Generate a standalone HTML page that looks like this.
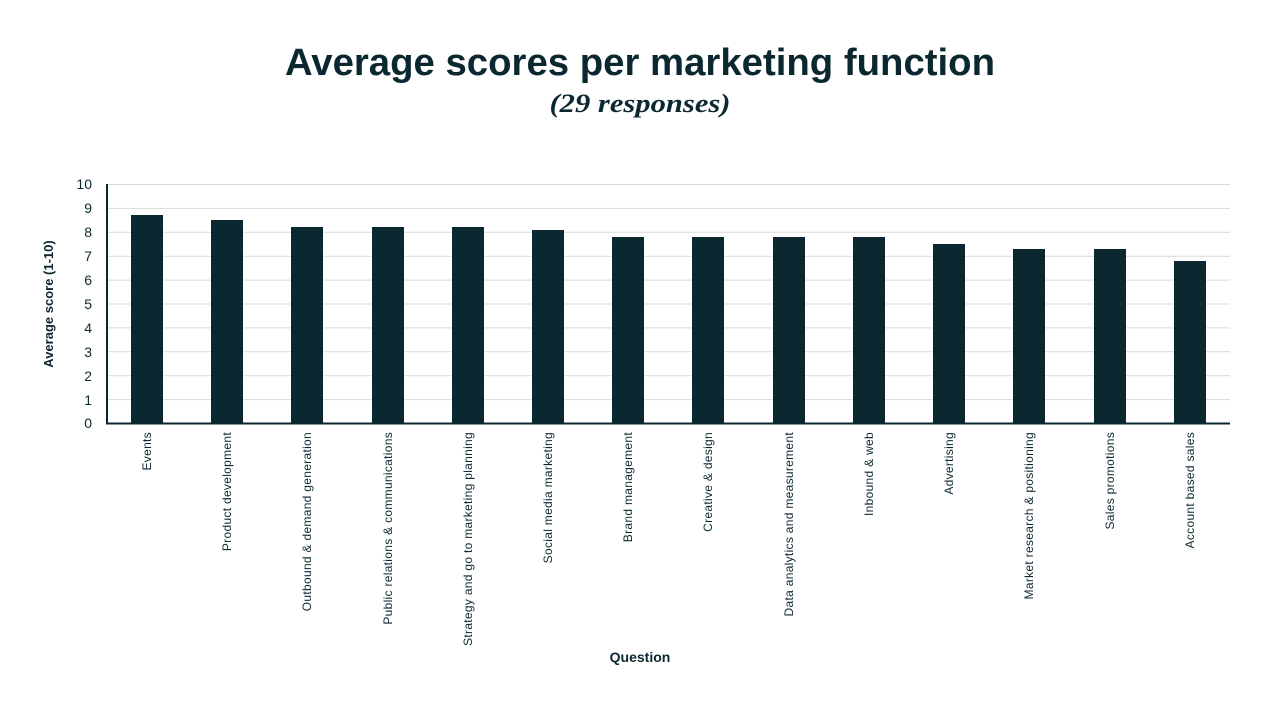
<!DOCTYPE html>
<html><head><meta charset="utf-8"><style>
html,body{margin:0;padding:0;background:#fff;}
svg{display:block;}
text{font-family:"Liberation Sans",sans-serif;fill:#0b2830;}
</style></head><body>
<svg width="1280" height="720" viewBox="0 0 1280 720" xmlns="http://www.w3.org/2000/svg">
<text x="640" y="75" text-anchor="middle" font-size="38" font-weight="bold" textLength="710" lengthAdjust="spacingAndGlyphs">Average scores per marketing function</text>
<text x="640" y="112" text-anchor="middle" font-size="26" font-weight="bold" font-style="italic" textLength="181" lengthAdjust="spacingAndGlyphs" style="font-family:'Liberation Serif',serif">(29 responses)</text>
<g stroke="#d9d9d9" stroke-width="1">
<line x1="107" x2="1230" y1="184.5" y2="184.5"/><line x1="107" x2="1230" y1="208.4" y2="208.4"/><line x1="107" x2="1230" y1="232.3" y2="232.3"/><line x1="107" x2="1230" y1="256.2" y2="256.2"/><line x1="107" x2="1230" y1="280.1" y2="280.1"/><line x1="107" x2="1230" y1="304" y2="304"/><line x1="107" x2="1230" y1="327.9" y2="327.9"/><line x1="107" x2="1230" y1="351.8" y2="351.8"/><line x1="107" x2="1230" y1="375.7" y2="375.7"/><line x1="107" x2="1230" y1="399.6" y2="399.6"/>
</g>
<g font-size="14" text-anchor="end">
<text x="92" y="189">10</text><text x="92" y="213">9</text><text x="92" y="237">8</text><text x="92" y="261">7</text><text x="92" y="285">6</text><text x="92" y="309">5</text><text x="92" y="333">4</text><text x="92" y="357">3</text><text x="92" y="381">2</text><text x="92" y="405">1</text><text x="92" y="428">0</text>
</g>
<text transform="translate(53,304) rotate(-90)" text-anchor="middle" font-size="13" font-weight="bold">Average score (1-10)</text>
<g fill="#0b2830">
<rect x="131" y="215" width="32" height="208"/>
<rect x="211" y="220" width="32" height="203"/>
<rect x="291" y="227" width="32" height="196"/>
<rect x="372" y="227" width="32" height="196"/>
<rect x="452" y="227" width="32" height="196"/>
<rect x="532" y="230" width="32" height="193"/>
<rect x="612" y="237" width="32" height="186"/>
<rect x="692" y="237" width="32" height="186"/>
<rect x="773" y="237" width="32" height="186"/>
<rect x="853" y="237" width="32" height="186"/>
<rect x="933" y="244" width="32" height="179"/>
<rect x="1013" y="249" width="32" height="174"/>
<rect x="1094" y="249" width="32" height="174"/>
<rect x="1174" y="261" width="32" height="162"/>
</g>
<line x1="107" y1="184" x2="107" y2="424" stroke="#0b2830" stroke-width="2"/>
<line x1="106" y1="423.5" x2="1230" y2="423.5" stroke="#0b2830" stroke-width="2"/>
<g font-size="12" text-anchor="end" letter-spacing="0.3">
<text transform="translate(151,432) rotate(-90)">Events</text>
<text transform="translate(231,432) rotate(-90)">Product development</text>
<text transform="translate(311,432) rotate(-90)">Outbound &amp; demand generation</text>
<text transform="translate(392,432) rotate(-90)">Public relations &amp; communications</text>
<text transform="translate(472,432) rotate(-90)">Strategy and go to marketing planning</text>
<text transform="translate(552,432) rotate(-90)">Social media marketing</text>
<text transform="translate(632,432) rotate(-90)">Brand management</text>
<text transform="translate(712,432) rotate(-90)">Creative &amp; design</text>
<text transform="translate(793,432) rotate(-90)">Data analytics and measurement</text>
<text transform="translate(873,432) rotate(-90)">Inbound &amp; web</text>
<text transform="translate(953,432) rotate(-90)">Advertising</text>
<text transform="translate(1033,432) rotate(-90)">Market research &amp; positioning</text>
<text transform="translate(1114,432) rotate(-90)">Sales promotions</text>
<text transform="translate(1194,432) rotate(-90)">Account based sales</text>
</g>
<text x="640" y="662" text-anchor="middle" font-size="14" font-weight="bold">Question</text>
</svg>
</body></html>
